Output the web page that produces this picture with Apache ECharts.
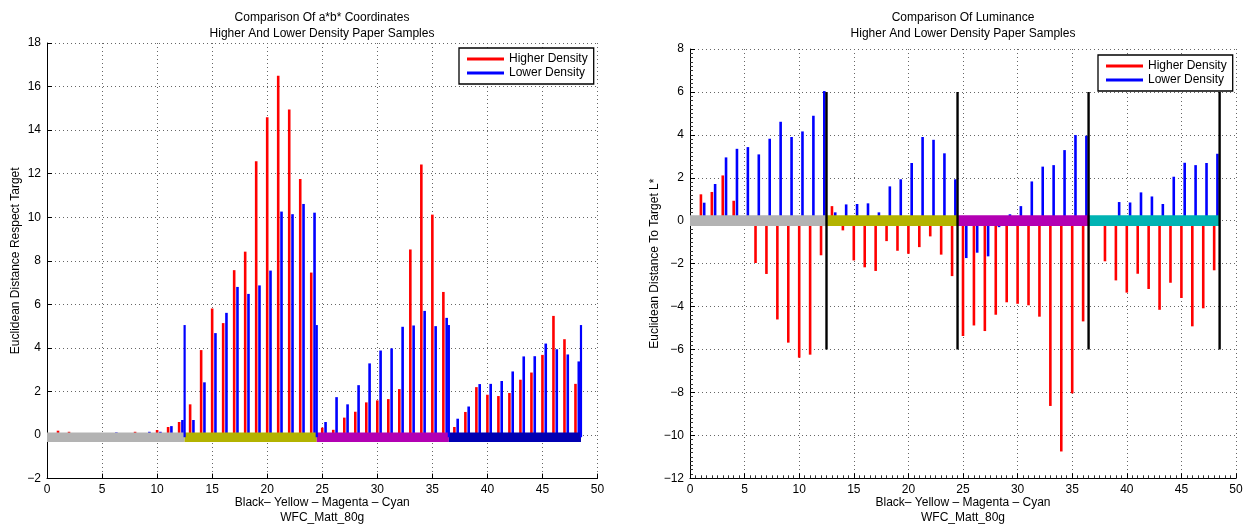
<!DOCTYPE html>
<html><head><meta charset="utf-8">
<script src="https://cdn.jsdelivr.net/npm/echarts@6/dist/echarts.min.js"></script>
<style>html,body{margin:0;padding:0;background:#fff}#c{width:1260px;height:530px}</style>
</head><body><div id="c"></div>
<script>
// ---------- data ----------
const samples = [1,2,3,4,5,6,7,8,9,10,11,12,13,14,15,16,17,18,19,20,21,22,23,24,
                 25,26,27,28,29,30,31,32,33,34,35,36,37,38,39,40,41,42,43,44,45,46,47,48];
const abHigher = [0.2,0.15,0,0,0,0,0,0.15,0,0.23,0.37,0.6,
                  1.41,3.9,5.81,5.14,7.57,8.42,12.57,14.59,16.5,14.95,11.76,7.46,
                  0.34,0.24,0.8,1.07,1.5,1.59,1.65,2.11,8.52,12.42,10.12,6.57,
                  0.37,1.06,2.2,1.85,1.79,1.93,2.54,2.87,3.68,5.47,4.4,2.35];
const abLower = [0,0,0,0,0,0.12,0,0,0.15,0.15,0.41,0.69,
                 0.69,2.42,4.68,5.61,6.8,6.48,6.87,7.55,10.26,10.14,10.61,10.21,
                 0.6,1.74,1.41,2.29,3.29,3.88,3.98,4.97,5.03,5.7,5.0,5.38,
                 0.75,1.31,2.34,2.35,2.48,2.92,3.61,3.62,4.2,3.94,3.7,3.38];
const lumHigher = [1.23,1.34,2.11,0.93,0,-1.97,-2.48,-4.6,-5.68,-6.38,-6.24,-1.61,
                   0.68,-0.45,-1.85,-2.17,-2.34,-0.95,-1.4,-1.54,-1.23,-0.73,-1.58,-2.58,
                   -5.37,-4.88,-5.14,-4.38,-3.8,-3.87,-3.94,-4.47,-8.63,-10.75,-8.04,-4.69,
                   0,-1.89,-2.78,-3.35,-2.47,-3.18,-4.15,-2.89,-3.6,-4.92,-4.08,-2.31];
const lumLower = [0.84,1.71,2.95,3.35,3.43,3.09,3.82,4.61,3.9,4.16,4.89,6.04,
                  0.39,0.76,0.78,0.81,0.39,1.6,1.93,2.69,3.9,3.77,3.14,1.93,
                  -1.74,-1.49,-1.66,-0.3,0.3,0.68,1.83,2.52,2.59,3.29,3.99,3.96,
                  0,0,0.87,0.85,1.32,1.13,0.78,2.05,2.7,2.59,2.69,3.12];
const groupEdges = [0, 12.5, 24.5, 36.5, 48.5];
const groupDividers = [12.5, 24.5, 36.5, 48.5];
const abDividerRange = [-0.1, 5.05];
const lumDividerRange = [-6, 6];
const abBandLevel = -0.1;
const lumBandLevel = 0;
const xTickLabels = [0,5,10,15,20,25,30,35,40,45,50];

// ---------- helpers ----------
const FONT = '"Liberation Sans", Arial, Helvetica, sans-serif';
const LOW_OFFSET = 0.3;
function bars(xs, ys, off){ return xs.map((x,i)=>[x+off, ys[i]]); }
function bands(level){ const out=[]; for(let i=0;i<groupEdges.length-1;i++) out.push([groupEdges[i],groupEdges[i+1],level]); return out; }
function dividers(r){ return groupDividers.map(x=>[x,r[0],r[1]]); }

function barRender(w){ return function(params, api){
  const x=api.value(0), y=api.value(1);
  const a=api.coord([x,0]), b=api.coord([x,y]);
  return {type:'rect', shape:{x:a[0]-w/2, y:Math.min(a[1],b[1]), width:w, height:Math.abs(a[1]-b[1])},
          style:{fill:api.visual('color')}};
};}
function bandRender(colors, thick){ return function(params, api){
  const a=api.coord([api.value(0),api.value(2)]), b=api.coord([api.value(1),api.value(2)]);
  return {type:'rect', shape:{x:a[0], y:a[1]-thick/2, width:b[0]-a[0], height:thick},
          style:{fill:colors[params.dataIndex]}};
};}
function divRender(width){ return function(params, api){
  const a=api.coord([api.value(0),api.value(1)]), b=api.coord([api.value(0),api.value(2)]);
  return {type:'line', shape:{x1:a[0],y1:a[1],x2:b[0],y2:b[1]}, style:{stroke:api.visual('color'), lineWidth:width}};
};}
const minus = v => String(v).replace('-', '\u2212');

function xAx(grid, minor){
  return {type:'value', gridIndex:grid, min:0, max:50, interval:5,
    axisLine:{show:true, onZero:false, lineStyle:{color:'#000', width:1}},
    axisTick:{show:true, inside:true, length:5, lineStyle:{color:'#000'}},
    minorTick:{show:minor, splitNumber:10, length:3, lineStyle:{color:'#333'}},
    axisLabel:{fontSize:12, color:'#000', margin:5, fontFamily:FONT,
      formatter: v => xTickLabels.includes(v) ? String(v) : ''},
    splitLine:{show:true, lineStyle:{color:'#666', type:[1,3], width:1}},
    name:'Black\u2013 Yellow \u2013 Magenta \u2013 Cyan\nWFC_Matt_80g', nameLocation:'middle', nameGap:17,
    nameMoveOverlap:false,
    nameTextStyle:{fontSize:12, color:'#000', lineHeight:15, fontFamily:FONT}};
}
function yAx(grid, min, max, name, gap, minor){
  return {type:'value', gridIndex:grid, min:min, max:max, interval:2,
    axisLine:{show:true, onZero:false, lineStyle:{color:'#000', width:1}},
    axisTick:{show:true, inside:true, length:5, lineStyle:{color:'#000'}},
    minorTick:{show:minor, splitNumber:10, length:3, lineStyle:{color:'#333'}},
    axisLabel:{fontSize:12, color:'#000', margin:6, fontFamily:FONT, formatter:minus},
    splitLine:{show:true, lineStyle:{color:'#666', type:[1,3], width:1}},
    name:name, nameLocation:'middle', nameGap:gap, nameRotate:90, nameMoveOverlap:false,
    nameTextStyle:{fontSize:12, color:'#000', fontFamily:FONT}};
}
function legend(left, top){
  return {left:left, top:top, orient:'vertical', selectedMode:false,
    data:[{name:'Higher Density', icon:'rect'},{name:'Lower Density', icon:'rect'}],
    itemWidth:37, itemHeight:3, itemGap:2, padding:[5,6,5,8],
    borderColor:'#000', borderWidth:1.3, backgroundColor:'#fff',
    textStyle:{fontSize:12, color:'#000', fontFamily:FONT}};
}
const title = (x, t) => ({text:t, left:x, top:10, padding:0, textAlign:'center',
   textStyle:{fontSize:12, fontWeight:'normal', color:'#000', lineHeight:16, fontFamily:FONT}});

const chart = echarts.init(document.getElementById('c'), null, {renderer:'canvas'});
chart.setOption({
  animation:false,
  backgroundColor:'#fff',
  title:[
    title(322, 'Comparison Of a*b* Coordinates\nHigher And Lower Density Paper Samples'),
    title(963, 'Comparison Of Luminance\nHigher And Lower Density Paper Samples')
  ],
  legend:[legend(459,48), legend(1098,55)],
  grid:[
    {left:47, top:43, right:662.5, bottom:51.4, containLabel:false, outerBoundsMode:'none'},
    {left:690, top:49, right:24, bottom:51.7, containLabel:false, outerBoundsMode:'none'}
  ],
  xAxis:[xAx(0,false), xAx(1,true)],
  yAxis:[
    yAx(0,-2,18,'Euclidean Distance Respect Target',25,false),
    yAx(1,-12,8,'Euclidean Distance To Target L*',29,true)
  ],
  series:[
    {type:'custom', name:'Higher Density', xAxisIndex:0, yAxisIndex:0, itemStyle:{color:'#ff0000'},
     renderItem:barRender(2.6), data:bars(samples,abHigher,0), encode:{x:0,y:1}, z:2},
    {type:'custom', name:'Lower Density', xAxisIndex:0, yAxisIndex:0, itemStyle:{color:'#0000ff'},
     renderItem:barRender(2.6), data:bars(samples,abLower,LOW_OFFSET), encode:{x:0,y:1}, z:2},
    {type:'custom', name:'abBands', xAxisIndex:0, yAxisIndex:0,
     renderItem:bandRender(['#b3b3b3','#b3b300','#b300b3','#0000b3'], 9.4), data:bands(abBandLevel), encode:{x:[0,1],y:2}, z:3},
    {type:'custom', name:'abDividers', xAxisIndex:0, yAxisIndex:0, itemStyle:{color:'#0000ff'},
     renderItem:divRender(2.2), data:dividers(abDividerRange), encode:{x:0,y:[1,2]}, z:4},

    {type:'custom', name:'Higher Density', xAxisIndex:1, yAxisIndex:1, itemStyle:{color:'#ff0000'},
     renderItem:barRender(2.6), data:bars(samples,lumHigher,0), encode:{x:0,y:1}, z:2},
    {type:'custom', name:'Lower Density', xAxisIndex:1, yAxisIndex:1, itemStyle:{color:'#0000ff'},
     renderItem:barRender(2.6), data:bars(samples,lumLower,LOW_OFFSET), encode:{x:0,y:1}, z:2},
    {type:'custom', name:'lumBands', xAxisIndex:1, yAxisIndex:1,
     renderItem:bandRender(['#b3b3b3','#b3b300','#b300b3','#00b3b3'], 10.7), data:bands(lumBandLevel), encode:{x:[0,1],y:2}, z:3},
    {type:'custom', name:'lumDividers', xAxisIndex:1, yAxisIndex:1, itemStyle:{color:'#000000'},
     renderItem:divRender(2.4), data:dividers(lumDividerRange), encode:{x:0,y:[1,2]}, z:4}
  ]
});
</script></body></html>
